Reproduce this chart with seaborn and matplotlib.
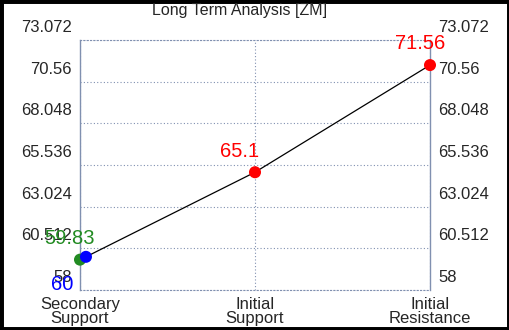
import seaborn as sns
import matplotlib.pyplot as plt
import matplotlib.transforms as mtransforms
from matplotlib.patches import Rectangle
import pandas as pd

# values
categories = ["Secondary\nSupport", "Initial\nSupport", "Initial\nResistance"]
line_x = [0.034, 1, 2]
line_y = [60, 65.1, 71.56]
point_x = [0, 0.034, 1, 2]
point_y = [59.83, 60, 65.1, 71.56]
point_labels = ["59.83", "60", "65.1", "71.56"]
point_colors = ["#228B22", "blue", "red", "red"]
label_offsets = [(-10, 21), (-24, -28), (-15, 21), (-10, 22)]
yticks = [58, 60.512, 63.024, 65.536, 68.048, 70.56, 73.072]

sns.set_style("white")
plt.rcParams['font.family'] = ['Liberation Sans', 'DejaVu Sans']

fig = plt.figure(figsize=(5.1, 3.3), dpi=100)
ax = fig.add_axes([80 / 510, 40 / 330, 350 / 510, 250 / 330])

grid_col = "#8090b0"

line_df = pd.DataFrame({"x": line_x, "y": line_y})
sns.lineplot(data=line_df, x="x", y="y", color="black", linewidth=0.9, ax=ax)

pts = pd.DataFrame({"x": point_x, "y": point_y, "c": point_labels})
sns.scatterplot(data=pts, x="x", y="y", hue="c", palette=dict(zip(point_labels, point_colors)),
                s=75, edgecolor="none", legend=False, ax=ax, zorder=5, clip_on=False)

for x, y, t, c, off in zip(point_x, point_y, point_labels, point_colors, label_offsets):
    ax.annotate(t, (x, y), xytext=off, textcoords="offset pixels", color=c,
                fontsize=14.5, ha="center", va="center", zorder=6)

ax.set_xlim(0, 2)
ax.set_ylim(58, 73.072)
ax.set_xticks(range(len(categories)))
ax.set_xticklabels(categories, fontsize=12, linespacing=0.95)
ax.set_yticks(yticks)
ax.set_yticklabels([f"{v:g}" for v in yticks], fontsize=12)
ax.set_xlabel("")
ax.set_ylabel("")
ax.tick_params(axis="y", which="both", left=False, right=False, labelright=True, labelleft=True,
               length=0, pad=6)
ax.tick_params(axis="x", bottom=False, length=0, pad=5)

# labels sit above their grid lines
shift = mtransforms.ScaledTranslation(0, 14 / 100, fig.dpi_scale_trans)
for t in ax.yaxis.get_major_ticks():
    t.label1.set_transform(t.label1.get_transform() + shift)
    t.label2.set_transform(t.label2.get_transform() + shift)

ax.grid(True, color=grid_col, linestyle=(0, (1, 2)), linewidth=0.8)
for side in ["left", "right"]:
    ax.spines[side].set_color(grid_col)
    ax.spines[side].set_linewidth(1)
for side in ["top", "bottom"]:
    ax.spines[side].set_color(grid_col)
    ax.spines[side].set_linewidth(0.8)
    ax.spines[side].set_linestyle((0, (1, 2)))

fig.text(240 / 510, 1 - 10 / 330, "Long Term Analysis [ZM]", ha="center", va="center", fontsize=11.5)
fig.patches.append(Rectangle((0, 0), 1, 1, transform=fig.transFigure, fill=False,
                             edgecolor="black", linewidth=5))

fig.savefig("out.png", dpi=100)
